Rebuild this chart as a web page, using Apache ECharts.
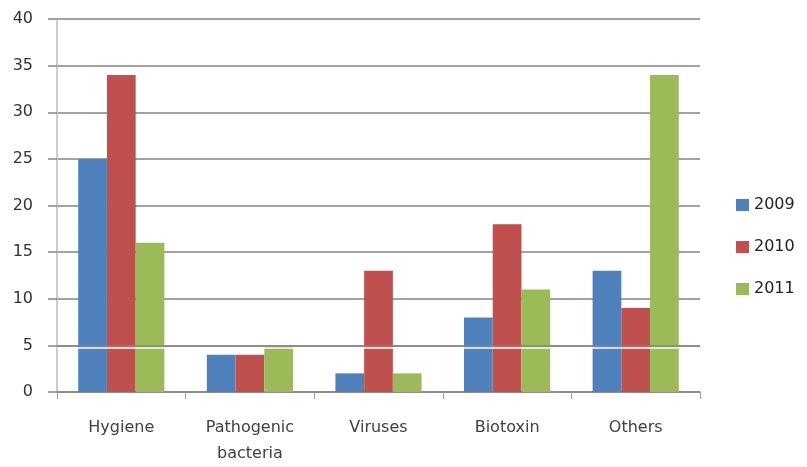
<!DOCTYPE html>
<html>
<head>
<meta charset="utf-8">
<script src="https://cdn.jsdelivr.net/npm/echarts@6/dist/echarts.min.js"></script>
<style>
  html, body { margin: 0; padding: 0; background: #fff; }
  #chart { width: 807px; height: 467px; }
</style>
</head>
<body>
<div id="chart"></div>
<script>
// Categories and yearly counts
const categories = ['Hygiene', 'Pathogenic\nbacteria', 'Viruses', 'Biotoxin', 'Others'];
const years = ['2009', '2010', '2011'];
const values2009 = [25, 4, 2, 8, 13];
const values2010 = [34, 4, 13, 18, 9];
const values2011 = [16, 5, 2, 11, 34];
const yTicks = { min: 0, max: 40, interval: 5 };

const colors = ['#4F81BD', '#C0504D', '#9BBB59'];
const font = 'DejaVu Sans';

const chart = echarts.init(document.getElementById('chart'), null, { renderer: 'canvas' });

const seriesData = [values2009, values2010, values2011];
const series = seriesData.map((vals, i) => ({
  name: years[i],
  type: 'bar',
  data: vals,
  barGap: '0%',
  barCategoryGap: '33%',
  itemStyle: { color: colors[i] },
  animation: false
}));

// Rule at 5 drawn across the bars, with a light edge beneath it
series[2].markLine = {
  silent: true,
  symbol: 'none',
  label: { show: false },
  z: 5,
  lineStyle: {
    color: '#858585', width: 1.5, type: 'solid',
    shadowColor: 'rgba(255,255,255,0.95)', shadowOffsetY: 2, shadowBlur: 0
  },
  data: [{ yAxis: 5 }]
};

chart.setOption({
  backgroundColor: '#ffffff',
  animation: false,
  color: colors,
  grid: { left: 57, right: 107, top: 19, bottom: 75, containLabel: false },
  legend: {
    orient: 'vertical',
    left: 736,
    top: 197,
    padding: 0,
    itemWidth: 13,
    itemHeight: 12,
    itemGap: 26,
    icon: 'rect',
    textStyle: { fontFamily: font, fontSize: 16, color: '#222' },
    data: years
  },
  xAxis: {
    type: 'category',
    data: categories,
    axisLine: { lineStyle: { color: '#858585', width: 1.5 } },
    axisTick: { show: true, length: 7, lineStyle: { color: '#a0a0a0' } },
    axisLabel: {
      fontFamily: font, fontSize: 16, color: '#404040',
      margin: 23, lineHeight: 26, interval: 0
    }
  },
  yAxis: {
    type: 'value',
    min: yTicks.min,
    max: yTicks.max,
    interval: yTicks.interval,
    axisLine: { show: true, lineStyle: { color: '#bdbdbd', width: 1.5 } },
    axisTick: { show: true, length: 9, lineStyle: { color: '#858585', width: 1.5 } },
    splitLine: { show: true, lineStyle: { color: '#858585', width: 1.5 } },
    axisLabel: { fontFamily: font, fontSize: 16, color: '#333', margin: 24 }
  },
  series: series
});
</script>
</body>
</html>
